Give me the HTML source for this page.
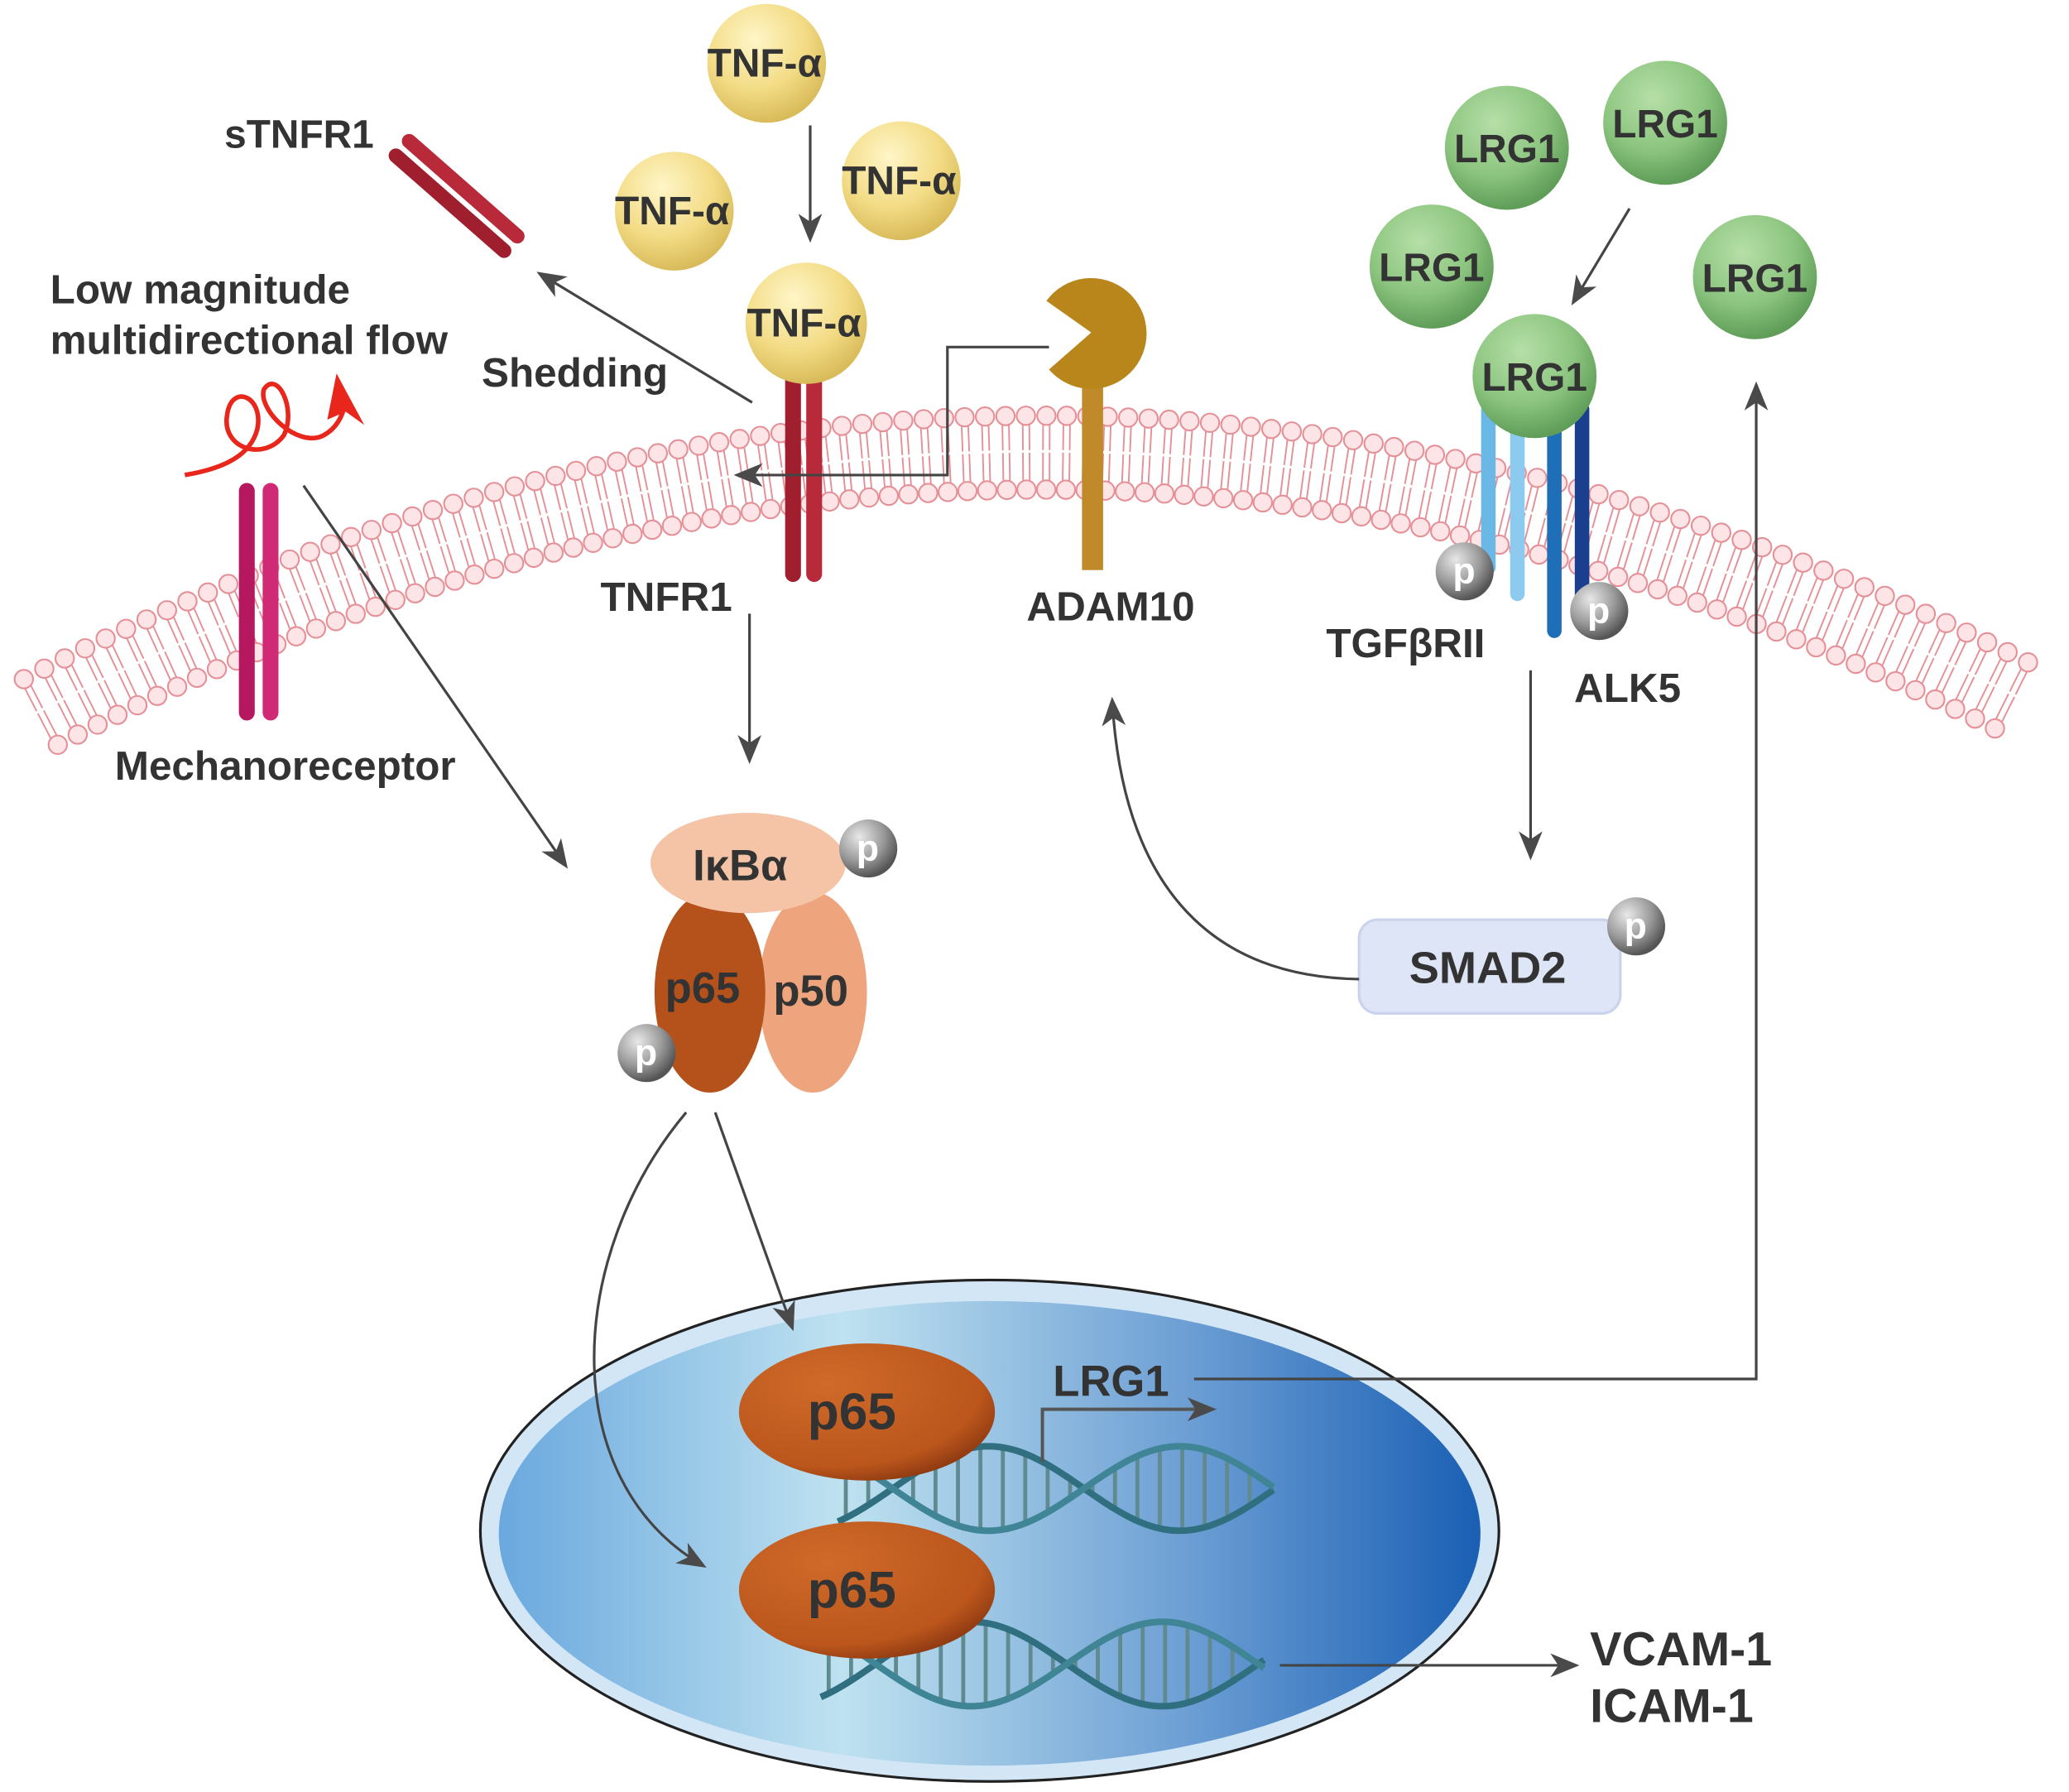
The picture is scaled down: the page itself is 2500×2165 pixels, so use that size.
<!DOCTYPE html>
<html><head><meta charset="utf-8"><style>
html,body{margin:0;padding:0;background:#fff}
svg{display:block}
text{font-family:"Liberation Sans",sans-serif;font-weight:bold;fill:#333}
</style></head><body>
<svg id="s" width="2500" height="2165" viewBox="0 0 1568 1358" xmlns="http://www.w3.org/2000/svg">
<defs>
<radialGradient id="yel" cx="0.4" cy="0.3" r="0.7"><stop offset="0" stop-color="#fff6c8"/><stop offset="0.6" stop-color="#f3dc86"/><stop offset="1" stop-color="#d9bb5a"/></radialGradient>
<radialGradient id="grn" cx="0.4" cy="0.3" r="0.7"><stop offset="0" stop-color="#b6dfa8"/><stop offset="0.6" stop-color="#8cc57f"/><stop offset="1" stop-color="#5f9d58"/></radialGradient>
<radialGradient id="gry" cx="0.35" cy="0.3" r="0.7"><stop offset="0" stop-color="#e8e8e8"/><stop offset="0.6" stop-color="#999"/><stop offset="1" stop-color="#555"/></radialGradient>
<linearGradient id="nuc" x1="0" x2="1"><stop offset="0" stop-color="#6aa8de"/><stop offset="0.35" stop-color="#bfe2f0"/><stop offset="0.7" stop-color="#6d9fd4"/><stop offset="1" stop-color="#1a5fb4"/></linearGradient>
<radialGradient id="org" cx="0.35" cy="0.3" r="0.75"><stop offset="0" stop-color="#cf6a2a"/><stop offset="0.8" stop-color="#bb561c"/><stop offset="1" stop-color="#8f3a12"/></radialGradient>
<marker id="ahb" markerWidth="22" markerHeight="22" refX="18" refY="11" orient="auto" markerUnits="userSpaceOnUse" viewBox="0 0 22 22"><path d="M0,2 L22,11 L0,20 L6,11 z" fill="#4a4a4a"/></marker>
</defs>
<g id="mem"></g>

<!-- nucleus -->
<ellipse cx="750" cy="1160" rx="386" ry="190" fill="#d2e6f6" stroke="#222" stroke-width="2"/>
<ellipse cx="750" cy="1162" rx="372" ry="176" fill="url(#nuc)"/>
<g id="dna"></g>
<ellipse cx="657" cy="1070" rx="97" ry="52" fill="url(#org)"/>
<ellipse cx="657" cy="1205" rx="97" ry="52" fill="url(#org)"/>
<text x="612" y="1083" font-size="39">p65</text>
<text x="612" y="1218" font-size="39">p65</text>
<text x="798" y="1058" font-size="33">LRG1</text>
<path d="M790,1108 V1068 H918" fill="none" stroke="#555" stroke-width="2.5" marker-end="url(#ahb)"/>
<path d="M905,1045 H1331 V293" fill="none" stroke="#444" stroke-width="2" marker-end="url(#ahb)"/>
<path d="M970,1262 H1193" fill="none" stroke="#444" stroke-width="2" marker-end="url(#ahb)"/>
<text x="1205" y="1262" font-size="36">VCAM-1</text>
<text x="1205" y="1305" font-size="36">ICAM-1</text>

<!-- arrows complex to nucleus -->
<path d="M542,843 L600,1005" fill="none" stroke="#444" stroke-width="2" marker-end="url(#ahb)"/>
<path d="M520,843 C430,950 420,1120 532,1186" fill="none" stroke="#444" stroke-width="2" marker-end="url(#ahb)"/>

<!-- TNF -->
<circle cx="581" cy="48" r="45" fill="url(#yel)"/>
<circle cx="511" cy="160" r="45" fill="url(#yel)"/>
<circle cx="683" cy="137" r="45" fill="url(#yel)"/>
<text x="536" y="58" font-size="30">TNF-α</text>
<text x="466" y="170" font-size="30">TNF-α</text>
<text x="638" y="147" font-size="30">TNF-α</text>
<path d="M614,95 V180" stroke="#444" stroke-width="2" marker-end="url(#ahb)"/>

<!-- sTNFR1 -->
<g stroke-linecap="round">
<line x1="300" y1="118" x2="382" y2="190" stroke="#a01f2e" stroke-width="11"/>
<line x1="310" y1="107" x2="392" y2="179" stroke="#b8293a" stroke-width="11"/>
</g>
<text x="170" y="112" font-size="30">sTNFR1</text>
<path d="M570,305 L410,208" stroke="#444" stroke-width="2" marker-end="url(#ahb)"/>
<text x="365" y="293" font-size="31">Shedding</text>
<text x="38" y="230" font-size="31">Low magnitude</text>
<text x="38" y="268" font-size="31">multidirectional flow</text>

<!-- TNFR1 -->
<g stroke-linecap="round">
<line x1="601" y1="285" x2="601" y2="435" stroke="#a01f2e" stroke-width="12"/>
<line x1="617" y1="285" x2="617" y2="435" stroke="#b8293a" stroke-width="12"/>
</g>
<circle cx="611" cy="245" r="46" fill="url(#yel)"/>
<text x="566" y="255" font-size="30">TNF-α</text>
<text x="455" y="463" font-size="31">TNFR1</text>
<path d="M568,465 V575" stroke="#444" stroke-width="2" marker-end="url(#ahb)"/>

<!-- ADAM10 -->
<rect x="820" y="290" width="16" height="142" fill="#c08a2a"/>
<path d="M827,252 L793,228 A42,42 0 1 1 795,280 Z" fill="#b8861a"/>
<path d="M795,263 H718 V360 H560" fill="none" stroke="#444" stroke-width="2" marker-end="url(#ahb)"/>
<text x="778" y="470" font-size="31">ADAM10</text>

<!-- mechanoreceptor -->
<g stroke-linecap="round">
<line x1="187" y1="372" x2="187" y2="540" stroke="#b5185f" stroke-width="12"/>
<line x1="205" y1="372" x2="205" y2="540" stroke="#d02a76" stroke-width="12"/>
</g>
<text x="87" y="591" font-size="31">Mechanoreceptor</text>
<path d="M140,360 C170,355 190,345 195,325 C200,300 175,290 172,315 C168,340 200,350 215,330 C225,310 210,280 200,295 C195,310 225,340 245,330 C260,322 262,305 262,300" fill="none" stroke="#e8261b" stroke-width="3.5"/>
<path d="M255,283 L276,322 L262,312 L248,318 Z" fill="#e8261b"/>
<path d="M230,368 L428,655" stroke="#444" stroke-width="2" marker-end="url(#ahb)"/>

<!-- NF-kB complex -->
<ellipse cx="616" cy="752" rx="41" ry="76" fill="#eea47c"/>
<ellipse cx="538" cy="752" rx="42" ry="76" fill="#b5521c"/>
<ellipse cx="567" cy="654" rx="74" ry="38" fill="#f5c3a6"/>
<text x="525" y="667" font-size="33">IκBα</text>
<text x="504" y="760" font-size="33">p65</text>
<text x="586" y="762" font-size="33">p50</text>

<!-- LRG1 receptors -->
<g stroke-linecap="round">
<line x1="1128" y1="310" x2="1128" y2="430" stroke="#6ab8e6" stroke-width="11"/>
<line x1="1150" y1="310" x2="1150" y2="450" stroke="#8ccbef" stroke-width="11"/>
<line x1="1178" y1="310" x2="1178" y2="478" stroke="#1e6fb8" stroke-width="11"/>
<line x1="1199" y1="310" x2="1199" y2="470" stroke="#1b3f8f" stroke-width="11"/>
</g>
<circle cx="1142" cy="112" r="47" fill="url(#grn)"/>
<circle cx="1262" cy="93" r="47" fill="url(#grn)"/>
<circle cx="1085" cy="202" r="47" fill="url(#grn)"/>
<circle cx="1330" cy="210" r="47" fill="url(#grn)"/>
<circle cx="1163" cy="285" r="47" fill="url(#grn)"/>
<text x="1102" y="123" font-size="30">LRG1</text>
<text x="1222" y="104" font-size="30">LRG1</text>
<text x="1045" y="213" font-size="30">LRG1</text>
<text x="1290" y="221" font-size="30">LRG1</text>
<text x="1123" y="296" font-size="30">LRG1</text>
<path d="M1235,158 L1193,228" stroke="#444" stroke-width="2" marker-end="url(#ahb)"/>
<text x="1005" y="498" font-size="31">TGFβRII</text>
<text x="1193" y="532" font-size="31">ALK5</text>
<path d="M1160,508 V648" stroke="#444" stroke-width="2" marker-end="url(#ahb)"/>

<!-- SMAD2 -->
<rect x="1030" y="697" width="198" height="71" rx="14" fill="#dde5f6" stroke="#c9d4ec" stroke-width="2"/>
<text x="1068" y="745" font-size="34">SMAD2</text>
<path d="M1030,742 C900,740 850,650 843,532" fill="none" stroke="#444" stroke-width="2" marker-end="url(#ahb)"/>

<g id="ps"></g>
</svg>
<script>
var NS="http://www.w3.org/2000/svg";
function el(t,a,p){var e=document.createElementNS(NS,t);for(var k in a)e.setAttribute(k,a[k]);p.appendChild(e);return e;}
var mem=document.getElementById('mem');
var k=0.000335;
function yo(x){return 315+k*(x-790)*(x-790);}
for(var x=18;x<=1552;x+=15.5){
  var y=yo(x);var d=2*k*(x-790);var L=Math.sqrt(1+d*d);var nx=-d/L,ny=1/L;
  var T=56;
  var ix=x+nx*T,iy=y+ny*T;
  var tx=-ny,ty=nx;
  for(var s=-1;s<=1;s+=2){
    el('line',{x1:x+nx*7+tx*2.5*s,y1:y+ny*7+ty*2.5*s,x2:x+nx*26+tx*2.5*s,y2:y+ny*26+ty*2.5*s,stroke:'#e58f96','stroke-width':1.2},mem);
    el('line',{x1:ix-nx*7+tx*2.5*s,y1:iy-ny*7+ty*2.5*s,x2:ix-nx*28+tx*2.5*s,y2:iy-ny*28+ty*2.5*s,stroke:'#e58f96','stroke-width':1.2},mem);
  }
  el('circle',{cx:x,cy:y,r:7,fill:'#fde4e6',stroke:'#e58f96','stroke-width':1.3},mem);
  el('circle',{cx:ix,cy:iy,r:7,fill:'#fde4e6',stroke:'#e58f96','stroke-width':1.3},mem);
}
var dna=document.getElementById('dna');
function helix(x0,x1,yc,A,ph){
  var P=290;
  var p1='',p2='';
  for(var x=x0;x<=x1;x+=3){var t=(x-x0)/P*2*Math.PI+ph;var a=yc-A*Math.sin(t),b=yc+A*Math.sin(t);p1+=(x==x0?'M':'L')+x+','+a;p2+=(x==x0?'M':'L')+x+','+b;}
  for(var x=x0+6;x<=x1;x+=17){var t=(x-x0)/P*2*Math.PI+ph;el('line',{x1:x,y1:yc-A*Math.sin(t),x2:x,y2:yc+A*Math.sin(t),stroke:'#5f8a8f','stroke-width':3},dna);}
  el('path',{d:p1,fill:'none',stroke:'#2f6f80','stroke-width':5},dna);
  el('path',{d:p2,fill:'none',stroke:'#3f8595','stroke-width':5},dna);
}
helix(635,965,1128,32,-0.9);
helix(622,958,1261,32,-0.9);
var ps=document.getElementById('ps');
[[1110,433],[1212,463],[658,643],[1240,702],[490,798]].forEach(function(c){
  el('circle',{cx:c[0],cy:c[1],r:22,fill:'url(#gry)'},ps);
  var t=el('text',{x:c[0]-9,y:c[1]+9,'font-size':28,style:'fill:#fff'},ps);t.textContent='p';
});
</script>
</body></html>
